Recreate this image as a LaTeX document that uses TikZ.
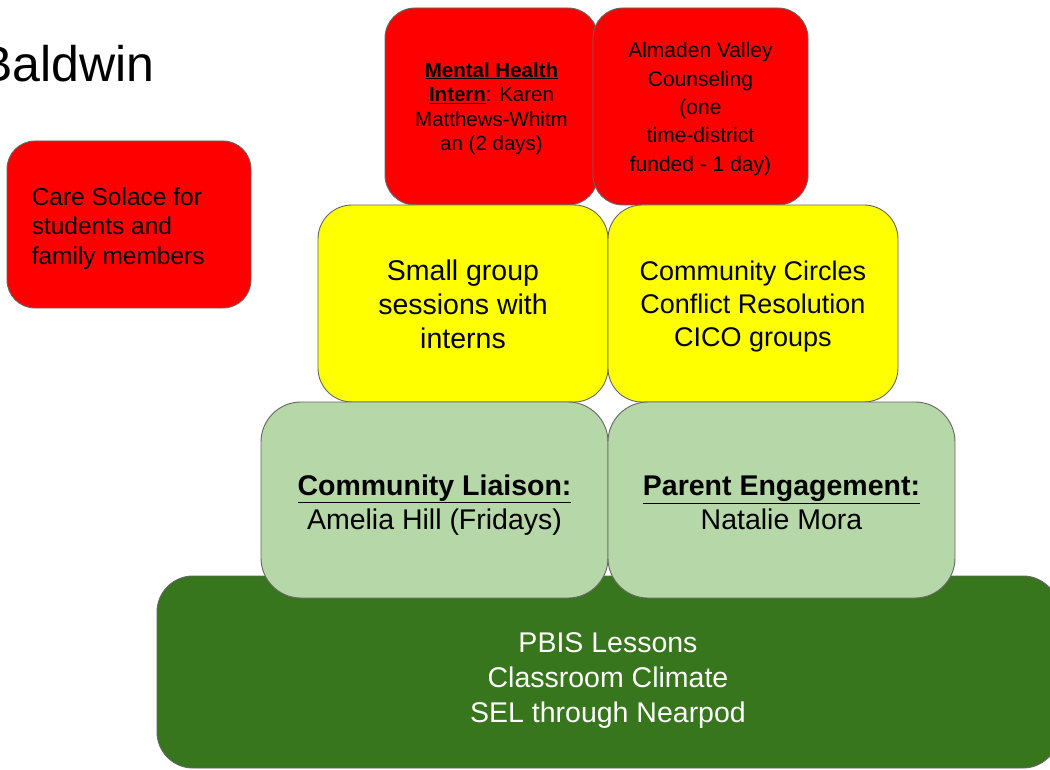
\documentclass[tikz,border=0pt]{standalone}
\usepackage{fontspec}
\setmainfont{Liberation Sans}
\definecolor{bred}{HTML}{FF0000}
\definecolor{byel}{HTML}{FFFF00}
\definecolor{blgreen}{HTML}{B6D7A8}
\definecolor{bdgreen}{HTML}{38761D}
\definecolor{bborder}{HTML}{666666}
\newcommand{\ul}[1]{\underline{#1}}
\begin{document}
\begin{tikzpicture}[x=1pt,y=-1pt,
  tier/.style={draw=bborder, line width=0.9pt, rounded corners=#1, inner sep=0pt},
  tier/.default=32pt,
  txt/.style={inner sep=0pt, align=center, text=black}]
\useasboundingbox (0,0) rectangle (1050,770);
\clip (0,0) rectangle (1050,770);
% title
\node[anchor=base west, inner sep=0pt, font=\fontsize{50}{56}\selectfont] (title) at (-21,82) {Baldwin};
% top red boxes
\node[tier=30pt, fill=bred, minimum width=213pt, minimum height=197pt] (mh) at (491.5,106.5) {};
\node[txt, font=\fontsize{20.5}{24.5}\selectfont] (mht) at ([yshift=-2pt]mh.center)
  {\textbf{\ul{Mental Health}}\\\textbf{\ul{Intern}}: Karen\\Matthews-Whitm\\an (2 days)};
\node[tier=30pt, fill=bred, minimum width=215pt, minimum height=197pt] (av) at (700.5,106.5) {};
\node[txt, font=\fontsize{21}{28.3}\selectfont] (avt) at ([yshift=-2.5pt]av.center)
  {Almaden Valley\\Counseling\\(one\\time-district\\funded - 1 day)};
% care solace
\node[tier=28pt, fill=bred, minimum width=244pt, minimum height=167pt] (cs) at (129,224.5) {};
\node[txt, align=left, anchor=west, font=\fontsize{24.5}{29.5}\selectfont] (cst) at ([xshift=25pt,yshift=-4pt]cs.west)
  {Care Solace for\\students and\\family members};
% yellow
\node[tier=34pt, fill=byel, minimum width=290pt, minimum height=197pt] (sg) at (463,303.5) {};
\node[txt, font=\fontsize{28.5}{34}\selectfont] (sgt) at ([yshift=-1pt]sg.center)
  {Small group\\sessions with\\interns};
\node[tier=34pt, fill=byel, minimum width=290pt, minimum height=197pt] (cc) at (753,303.5) {};
\node[txt, font=\fontsize{27}{33}\selectfont] (cct) at ([yshift=-3.5pt]cc.center)
  {Community Circles\\Conflict Resolution\\CICO groups};
% dark green base
\node[tier=36pt, fill=bdgreen, minimum width=902pt, minimum height=192pt] (pbis) at (608,672) {};
\node[txt, text=white, font=\fontsize{28.5}{35}\selectfont] (pbist) at ([yshift=-9pt]pbis.center)
  {PBIS Lessons\\Classroom Climate\\SEL through Nearpod};
% light green
\node[tier=40pt, fill=blgreen, minimum width=347pt, minimum height=196pt] (cl) at (434.5,500) {};
\node[txt, font=\fontsize{28.5}{34}\selectfont] (clt) at ([yshift=-5pt]cl.center)
  {\textbf{\ul{Community Liaison:}}\\Amelia Hill (Fridays)};
\node[tier=40pt, fill=blgreen, minimum width=347pt, minimum height=196pt] (pe) at (781.5,500) {};
\node[txt, font=\fontsize{28.5}{34}\selectfont] (pet) at ([yshift=-3pt]pe.center)
  {\textbf{\ul{Parent Engagement:}}\\Natalie Mora};
\end{tikzpicture}
\end{document}
